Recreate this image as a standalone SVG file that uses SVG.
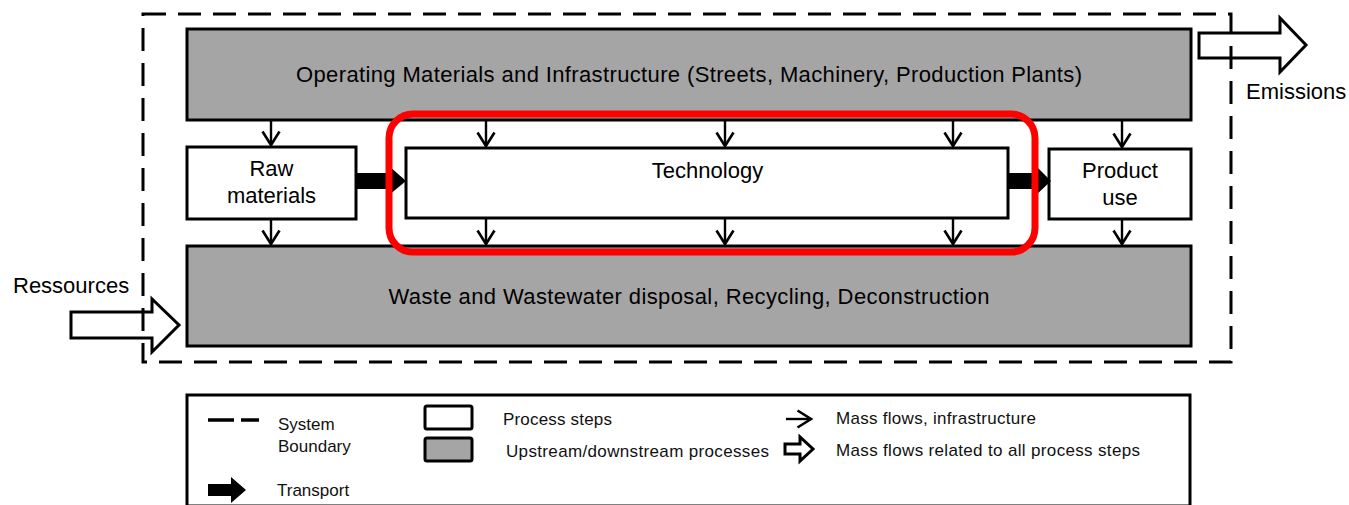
<svg xmlns="http://www.w3.org/2000/svg" width="1349" height="505" viewBox="0 0 1349 505">
  <defs>
    <style>
      .txt { font-family: "Liberation Sans", Arial, sans-serif; fill: #000; }
      .main { font-size: 22px; }
      .leg { font-size: 17px; fill: #111; }
      .proc { fill: #fff; stroke: #000; stroke-width: 3; }
      .updown { fill: #a5a5a5; stroke: #000; stroke-width: 3; }
      .flow { fill: none; stroke: #000; stroke-width: 2.4; stroke-linecap: butt; }
      .transport { fill: #000; stroke: none; }
      .bigflow { fill: #fff; stroke: #000; stroke-width: 3; stroke-linejoin: miter; }
      .boundary { fill: none; stroke: #000; stroke-width: 3; stroke-dasharray: 23 12; }
    </style>
    <marker id="vhead" viewBox="0 0 20 20" refX="16" refY="10" markerWidth="20" markerHeight="20" markerUnits="userSpaceOnUse" orient="auto">
      <path d="M2.5,1.5 L16,10 L2.5,18.5" fill="none" stroke="#000" stroke-width="2.6"/>
    </marker>
  </defs>

  <!-- upstream / downstream processes -->
  <g id="node-operating">
    <rect class="updown" x="187" y="29" width="1004" height="91"/>
    <text class="txt main" x="689" y="82" text-anchor="middle" textLength="786" lengthAdjust="spacing">Operating Materials and Infrastructure (Streets, Machinery, Production Plants)</text>
  </g>
  <g id="node-waste">
    <rect class="updown" x="187" y="246" width="1004" height="100"/>
    <text class="txt main" x="689" y="304" text-anchor="middle" textLength="601" lengthAdjust="spacing">Waste and Wastewater disposal, Recycling, Deconstruction</text>
  </g>

  <!-- process steps -->
  <g id="node-raw">
    <rect class="proc" x="187" y="147" width="169" height="72"/>
    <text class="txt main" x="271.5" y="176" text-anchor="middle">Raw</text>
    <text class="txt main" x="271.5" y="203" text-anchor="middle">materials</text>
  </g>
  <g id="node-technology">
    <rect class="proc" x="406" y="148" width="602" height="70"/>
    <text class="txt main" x="707.5" y="178" text-anchor="middle">Technology</text>
  </g>
  <g id="node-product">
    <rect class="proc" x="1049" y="149" width="142" height="70"/>
    <text class="txt main" x="1120" y="178" text-anchor="middle">Product</text>
    <text class="txt main" x="1120" y="205" text-anchor="middle">use</text>
  </g>

  <!-- connectors -->
  <g id="connectors">
    <!-- infrastructure flows down into the process steps -->
    <line class="flow" x1="271" y1="121" x2="271" y2="145" marker-end="url(#vhead)"/>
    <line class="flow" x1="486" y1="121" x2="486" y2="146" marker-end="url(#vhead)"/>
    <line class="flow" x1="725" y1="121" x2="725" y2="146" marker-end="url(#vhead)"/>
    <line class="flow" x1="953" y1="121" x2="953" y2="146" marker-end="url(#vhead)"/>
    <line class="flow" x1="1122" y1="121" x2="1122" y2="147" marker-end="url(#vhead)"/>
    <!-- flows from process steps to disposal -->
    <line class="flow" x1="271" y1="220" x2="271" y2="244" marker-end="url(#vhead)"/>
    <line class="flow" x1="486" y1="219" x2="486" y2="244" marker-end="url(#vhead)"/>
    <line class="flow" x1="725" y1="219" x2="725" y2="244" marker-end="url(#vhead)"/>
    <line class="flow" x1="953" y1="219" x2="953" y2="244" marker-end="url(#vhead)"/>
    <line class="flow" x1="1122" y1="220" x2="1122" y2="244" marker-end="url(#vhead)"/>
    <!-- transport -->
    <polygon class="transport" points="357,173 389,173 389,166 406,181 389,195 389,189 357,189"/>
    <polygon class="transport" points="1009,173 1036,173 1036,166 1051,181 1036,195 1036,189 1009,189"/>
    <!-- mass flows related to all process steps -->
    <polygon class="bigflow" points="1199,33 1280,33 1280,18 1306,45 1280,72 1280,58 1199,58"/>
    <polygon class="bigflow" points="71,312 152,312 152,299 179,325 152,352 152,338 71,338"/>
  </g>

  <!-- highlighted process -->
  <g id="highlight">
    <rect x="389" y="114" width="646" height="138" rx="24" ry="24" fill="none" stroke="#ff0000" stroke-width="7"/>
  </g>

  <!-- system boundary -->
  <g id="system-boundary">
    <rect class="boundary" x="143" y="14" width="1088" height="348"/>
  </g>

  <g id="labels-outside">
    <text class="txt main" x="1246" y="99">Emissions</text>
    <text class="txt main" x="13" y="293">Ressources</text>
  </g>

  <!-- legend -->
  <g id="legend">
    <rect x="187" y="395" width="1003" height="111" fill="#fff" stroke="#000" stroke-width="3"/>
    <line x1="208" y1="420" x2="234" y2="420" stroke="#000" stroke-width="3.5"/>
    <line x1="241" y1="420" x2="259" y2="420" stroke="#000" stroke-width="3.5"/>
    <text class="txt leg" x="278" y="430">System</text>
    <text class="txt leg" x="278" y="452">Boundary</text>

    <rect class="proc" x="425" y="406" width="47" height="23" rx="2"/>
    <rect class="updown" x="425" y="438" width="47" height="23" rx="2"/>
    <text class="txt leg" x="503" y="425" textLength="109" lengthAdjust="spacing">Process steps</text>
    <text class="txt leg" x="506" y="457" textLength="263" lengthAdjust="spacing">Upstream/downstream  processes</text>

    <polygon class="transport" points="208,484 231,484 231,477 246,490 231,503 231,496 208,496"/>
    <text class="txt leg" x="277" y="496">Transport</text>

    <line class="flow" x1="786" y1="419" x2="811" y2="419" stroke-width="3" marker-end="url(#vhead)"/>
    <text class="txt leg" x="836" y="424" textLength="200" lengthAdjust="spacing">Mass flows, infrastructure</text>

    <polygon class="bigflow" points="785,444 800,444 800,437 813,449 800,461 800,454 785,454" stroke-width="3.5"/>
    <text class="txt leg" x="836" y="456" textLength="304" lengthAdjust="spacing">Mass flows related to all process steps</text>
  </g>
</svg>
